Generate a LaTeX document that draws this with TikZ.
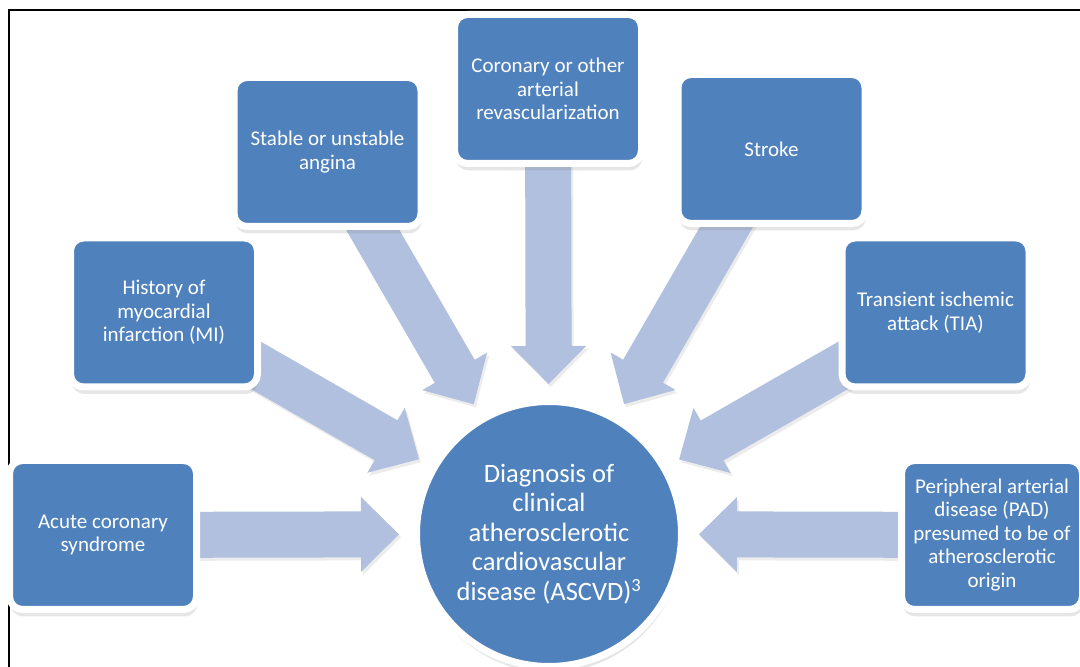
\documentclass[tikz,border=0pt]{standalone}
\usepackage{fontspec}
\setmainfont{Carlito}
\usetikzlibrary{calc}
\usetikzlibrary{shadows}
\definecolor{boxblue}{RGB}{79,129,189}
\definecolor{arrowblue}{RGB}{176,192,222}
\pgfdeclarelayer{bg}
\pgfsetlayers{bg,main}

\begin{document}
\begin{tikzpicture}[x=1pt,y=1pt,
  causebox/.style={rectangle,rounded corners=13pt,fill=boxblue,draw=white,line width=7pt,
    minimum width=187pt,minimum height=149pt,inner sep=2pt,align=center,text=white,
    font=\fontsize{21}{23.5}\selectfont,
    drop shadow={shadow xshift=1pt,shadow yshift=-7pt,opacity=0.2}},
  hubcircle/.style={circle,fill=boxblue,draw=white,line width=7pt,minimum size=265pt,
    inner sep=0pt,align=center,text=white,font=\fontsize{26.5}{29.5}\selectfont,
    drop shadow={shadow xshift=1pt,shadow yshift=-6pt,opacity=0.2}},
  blockarrow/.style={fill=arrowblue,
    drop shadow={shadow xshift=2pt,shadow yshift=-3pt,opacity=0.15}}]
				% page size and frame
				\useasboundingbox (0,0) rectangle (1080,667);
				\draw[line width=1.8pt] (9,0) -- (9,657) -- (1080,657);
				
				% centre circle
				\node[hubcircle] (ctr) at (549,133) {Diagnosis of\\clinical\\atherosclerotic\\cardiovascular\\disease (ASCVD)\textsuperscript{3}};
				
				% the seven boxes round it
				\node[causebox] (acs) at (103,132) {Acute coronary\\syndrome};
				\node[causebox] (mi) at (164,354.5) {History of\\myocardial\\infarction (MI)};
				\node[causebox] (ang) at (327.5,515) {Stable or unstable\\angina};
				\node[causebox] (rev) at (548,578) {Coronary or other\\arterial\\revascularization};
				\node[causebox] (str) at (771.5,518) {Stroke};
				\node[causebox] (tia) at (935.5,354.5) {Transient ischemic\\attack (TIA)};
				\node[causebox,minimum width=181pt] (pad) at (992,132) {Peripheral arterial\\disease (PAD)\\presumed to be of\\atherosclerotic\\origin};
				
				% block arrows from each box to the circle, behind the boxes
				\begin{pgfonlayer}{bg}
				\foreach \b in {acs,mi,ang,rev,str,tia,pad}{
					\coordinate (tip) at ($(ctr.center)!150pt!(\b.center)$);
					\coordinate (base) at ($(ctr.center)!188pt!(\b.center)$);
					\fill[blockarrow] (tip) -- ($(base)!37.5pt!90:(ctr.center)$) -- ($(base)!23pt!90:(ctr.center)$)
						-- ($(\b.center)!23pt!90:(ctr.center)$) -- ($(\b.center)!23pt!-90:(ctr.center)$)
						-- ($(base)!23pt!-90:(ctr.center)$) -- ($(base)!37.5pt!-90:(ctr.center)$) -- cycle;
				}
				\end{pgfonlayer}
				
\end{tikzpicture}
\end{document}
